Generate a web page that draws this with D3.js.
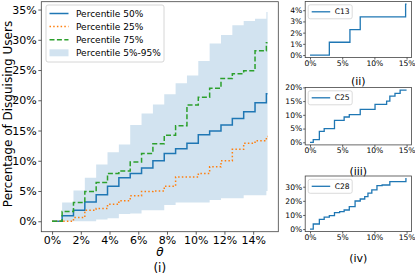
<!DOCTYPE html>
<html>
<head>
<meta charset="utf-8">
<script src="https://cdn.jsdelivr.net/npm/d3@7"></script>
<style>
  body { margin: 0; background: #fff; }
  text { font-family: "DejaVu Sans", sans-serif; fill: #000; }
</style>
</head>
<body>
<div id="chart"></div>
<script>
// ---- data (theta in %, values in %) ----
const thetaEnd = 15;
const thetaSteps = [0, 0.7, 1.49, 2.28, 3.07, 3.86, 4.65, 5.44, 6.23, 7.02, 7.81, 8.6, 9.39, 10.18, 10.97, 11.76, 12.55, 13.34, 14.13, 14.92];
const p50 = [0, 0.9, 1.8, 3.2, 4.4, 5.8, 7.2, 7.9, 8.8, 10.0, 11.2, 12.0, 12.9, 14.3, 14.9, 15.9, 17.0, 18.1, 19.6, 21.1];
const p25 = [0, 0, 0.6, 1.8, 2.1, 2.8, 3.4, 4.2, 4.9, 5.0, 5.8, 7.3, 7.3, 7.9, 9.0, 10.0, 11.9, 12.9, 13.3, 14.0];
const p75 = [0, 1.6, 3.1, 4.9, 6.4, 7.9, 8.3, 9.8, 11.2, 12.8, 14.2, 15.8, 19.2, 20.5, 22.0, 23.6, 24.4, 24.9, 28.2, 29.5];
const p05 = [0, 0, 0, 0, 0.3, 0.5, 1.2, 1.3, 1.8, 1.8, 2.7, 3.1, 3.1, 3.1, 3.5, 3.8, 3.8, 4.3, 4.3, 5.0];
const p95 = [0, 3.1, 5.1, 7.2, 9.4, 11.4, 12.7, 15.9, 17.8, 19.3, 21.0, 22.8, 24.1, 26.5, 29.4, 30.8, 32.4, 33.1, 33.5, 34.6];

const mainXTicks = [0, 2, 4, 6, 8, 10, 12, 14];
const mainYTicks = [0, 5, 10, 15, 20, 25, 30, 35];
const legendLabels = ["Percentile 50%", "Percentile 25%", "Percentile 75%", "Percentile 5%-95%"];

const c13Theta = [0, 3.0, 6.2, 7.8, 14.85];
const c13Values = [0, 1.14, 2.27, 3.41, 4.55];
const c25Theta = [0, 0.5, 1.45, 2.2, 3.8, 5.3, 6.1, 7.8, 10.1, 11.9, 12.4, 13.2, 14.0];
const c25Values = [0, 1.0, 4.0, 5.0, 8.0, 9.2, 10.1, 12.0, 13.8, 15.0, 16.8, 17.8, 19.0];
const c28Theta = [0, 0.5, 1.45, 2.2, 3.0, 3.8, 4.6, 5.3, 6.1, 7.0, 7.8, 8.5, 9.0, 9.6, 10.4, 11.2, 12.4, 14.9];
const c28Values = [0, 3.6, 6.9, 8.4, 9.5, 11.6, 12.3, 13.5, 15.9, 19.9, 21.3, 23.0, 25.4, 27.7, 30.8, 31.2, 33.6, 35.8];

const smallXTicks = [0, 5, 10, 15];

// colours
const blue = "#1f77b4", orange = "#ff7f0e", green = "#2ca02c", band = "#d2e3f0";

const svg = d3.select("#chart")
  .append("svg")
  .attr("width", 415)
  .attr("height", 274);

// make [theta, value] pairs, closing the last step at thetaEnd
function stepPoints(thetas, values) {
  const pts = thetas.map((t, i) => [t, values[i]]);
  pts.push([thetaEnd, values[values.length - 1]]);
  return pts;
}

function styleAxis(g, size) {
  g.select(".domain").remove();
  g.selectAll(".tick line").attr("stroke", "#333").attr("stroke-width", 0.8);
  g.selectAll(".tick text").style("font-size", size + "px").attr("fill", "#000");
}

// ---------------- main chart (i) ----------------
const m = { left: 41.3, right: 278.3, top: 1.7, bottom: 231.7 };

const x = d3.scaleLinear().domain([-0.75, 15.75]).range([m.left, m.right]);
const y = d3.scaleLinear().domain([-1.73, 36.3]).range([m.bottom, m.top]);

const mainG = svg.append("g");

// band 5%-95%
const bandData = thetaSteps.map((t, i) => ({ t: t, lo: p05[i], hi: p95[i] }));
bandData.push({ t: thetaEnd, lo: p05[p05.length - 1], hi: p95[p95.length - 1] });

mainG.append("path")
  .datum(bandData)
  .attr("fill", band)
  .attr("d", d3.area()
    .curve(d3.curveStepAfter)
    .x(d => x(d.t))
    .y0(d => y(d.lo))
    .y1(d => y(d.hi)));

const stepLine = (sx, sy) => d3.line()
  .curve(d3.curveStepAfter)
  .x(d => sx(d[0]))
  .y(d => sy(d[1]));

const series = [
  { values: p50, color: blue, dash: null },
  { values: p25, color: orange, dash: "1.5,2.2" },
  { values: p75, color: green, dash: "5,2.4" }
];

series.forEach(s => {
  mainG.append("path")
    .datum(stepPoints(thetaSteps, s.values))
    .attr("fill", "none")
    .attr("stroke", s.color)
    .attr("stroke-width", 1.5)
    .attr("stroke-dasharray", s.dash)
    .attr("d", stepLine(x, y));
});

// frame
mainG.append("rect")
  .attr("x", m.left).attr("y", m.top)
  .attr("width", m.right - m.left).attr("height", m.bottom - m.top)
  .attr("fill", "none").attr("stroke", "#444").attr("stroke-width", 0.8);

const mainX = mainG.append("g")
  .attr("transform", `translate(0, ${m.bottom})`)
  .call(d3.axisBottom(x).tickValues(mainXTicks).tickSize(3).tickPadding(1.5).tickFormat(d => d + "%"));
styleAxis(mainX, 11);

const mainY = mainG.append("g")
  .attr("transform", `translate(${m.left}, 0)`)
  .call(d3.axisLeft(y).tickValues(mainYTicks).tickSize(3).tickPadding(1.5).tickFormat(d => d + "%"));
styleAxis(mainY, 11);

// axis labels
mainG.append("text")
  .attr("transform", "rotate(-90)")
  .attr("x", -114)
  .attr("y", 7.5)
  .attr("dy", "0.35em")
  .attr("text-anchor", "middle")
  .style("font-size", "12px")
  .text("Percentage of Disguising Users");

mainG.append("text")
  .attr("x", (m.left + m.right) / 2)
  .attr("y", 252)
  .attr("dy", "0.35em")
  .attr("text-anchor", "middle")
  .style("font-size", "12px")
  .style("font-style", "italic")
  .text("θ");

mainG.append("text")
  .attr("x", (m.left + m.right) / 2)
  .attr("y", 267.5)
  .attr("dy", "0.35em")
  .attr("text-anchor", "middle")
  .style("font-size", "12px")
  .text("(i)");

// legend
const leg = mainG.append("g").attr("transform", "translate(46, 5)");
leg.append("rect")
  .attr("width", 118).attr("height", 57).attr("rx", 2)
  .attr("fill", "#fff").attr("fill-opacity", 0.8)
  .attr("stroke", "#ccc").attr("stroke-width", 0.8);

legendLabels.forEach((label, i) => {
  const ly = 8.5 + i * 13.1;
  if (i < 3) {
    leg.append("line")
      .attr("x1", 3.5).attr("x2", 22.5).attr("y1", ly).attr("y2", ly)
      .attr("stroke", series[i].color).attr("stroke-width", 1.5)
      .attr("stroke-dasharray", series[i].dash);
  } else {
    leg.append("rect")
      .attr("x", 3.5).attr("y", ly - 3.5).attr("width", 19).attr("height", 7)
      .attr("fill", band);
  }
  leg.append("text")
    .attr("x", 30).attr("y", ly)
    .attr("dy", "0.35em")
    .style("font-size", "9px")
    .text(label);
});

// ---------------- small charts (ii)-(iv) ----------------
const sLeft = 305.2, sRight = 411.4;
const sx = d3.scaleLinear().domain([-0.75, 15.75]).range([sLeft, sRight]);

const smallCharts = [
  { name: "C13", label: "(ii)", top: 1.5, bottom: 57.6, yDomain: [-0.2275, 4.7775], yTicks: [0, 1, 2, 3, 4], theta: c13Theta, values: c13Values, labelY: 81.5 },
  { name: "C25", label: "(iii)", top: 87.5, bottom: 144.9, yDomain: [-0.95, 19.95], yTicks: [0, 5, 10, 15, 20], theta: c25Theta, values: c25Values, labelY: 171 },
  { name: "C28", label: "(iv)", top: 176, bottom: 231.6, yDomain: [-1.79, 37.59], yTicks: [0, 10, 20, 30], theta: c28Theta, values: c28Values, labelY: 258.5 }
];

smallCharts.forEach(c => {
  const g = svg.append("g");
  const sy = d3.scaleLinear().domain(c.yDomain).range([c.bottom, c.top]);

  g.append("path")
    .datum(stepPoints(c.theta, c.values))
    .attr("fill", "none")
    .attr("stroke", blue)
    .attr("stroke-width", 1.3)
    .attr("d", stepLine(sx, sy));

  g.append("rect")
    .attr("x", sLeft).attr("y", c.top)
    .attr("width", sRight - sLeft).attr("height", c.bottom - c.top)
    .attr("fill", "none").attr("stroke", "#444").attr("stroke-width", 0.8);

  const ax = g.append("g")
    .attr("transform", `translate(0, ${c.bottom})`)
    .call(d3.axisBottom(sx).tickValues(smallXTicks).tickSize(2).tickPadding(1).tickFormat(d => d + "%"));
  styleAxis(ax, 7.6);

  const ay = g.append("g")
    .attr("transform", `translate(${sLeft}, 0)`)
    .call(d3.axisLeft(sy).tickValues(c.yTicks).tickSize(2).tickPadding(1).tickFormat(d => d + "%"));
  styleAxis(ay, 7.6);

  // legend
  const lg = g.append("g").attr("transform", `translate(${sLeft + 3}, ${c.top + 3.3})`);
  lg.append("rect")
    .attr("width", 44).attr("height", 14).attr("rx", 2)
    .attr("fill", "#fff").attr("fill-opacity", 0.8)
    .attr("stroke", "#ccc").attr("stroke-width", 0.7);
  lg.append("line")
    .attr("x1", 3.5).attr("x2", 22).attr("y1", 7).attr("y2", 7)
    .attr("stroke", blue).attr("stroke-width", 1.3);
  lg.append("text")
    .attr("x", 26.5).attr("y", 7).attr("dy", "0.35em")
    .style("font-size", "7.6px")
    .text(c.name);

  g.append("text")
    .attr("x", (sLeft + sRight) / 2)
    .attr("y", c.labelY)
    .attr("dy", "0.35em")
    .attr("text-anchor", "middle")
    .style("font-size", "11px")
    .text(c.label);
});
</script>
</body>
</html>
